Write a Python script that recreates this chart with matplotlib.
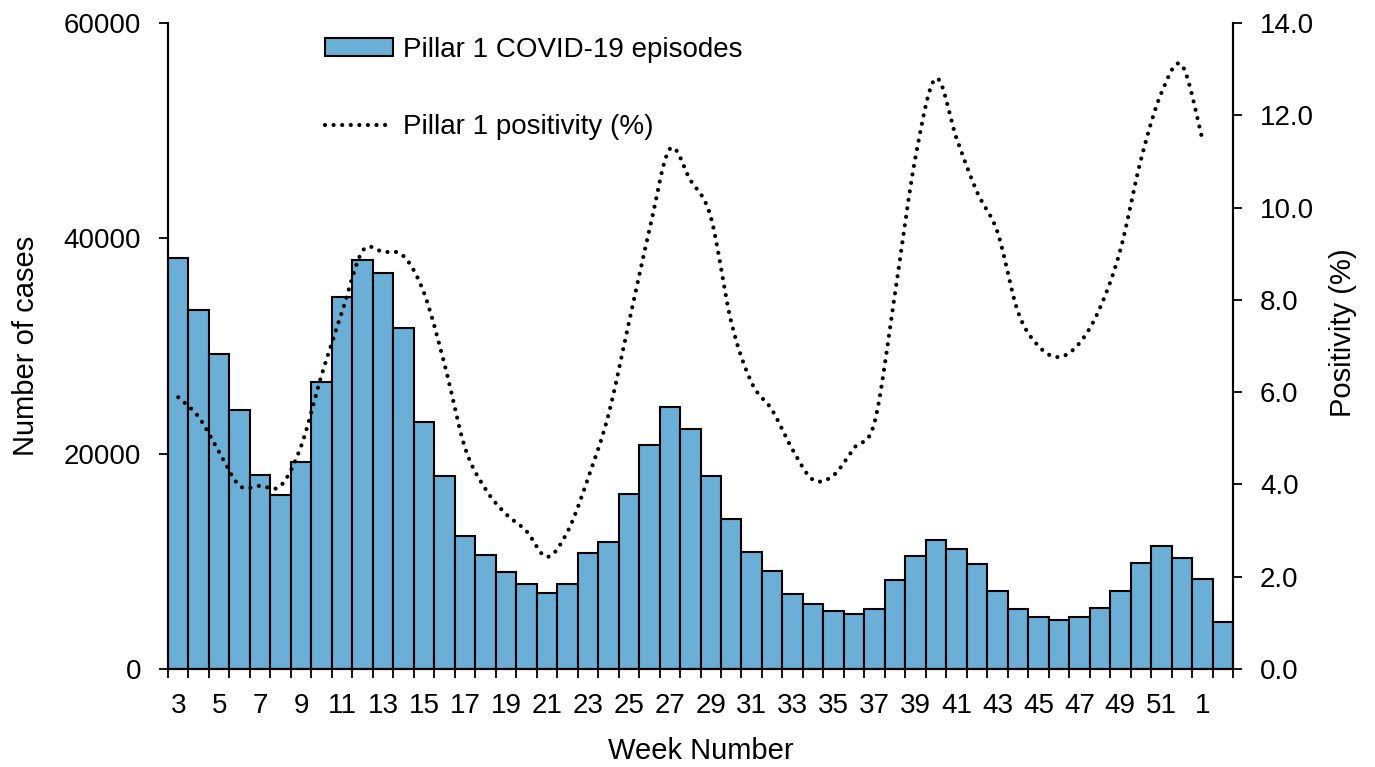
import numpy as np
import matplotlib
matplotlib.use("Agg")
import matplotlib.pyplot as plt
from matplotlib.lines import Line2D
from matplotlib.patches import Patch

plt.rcParams['font.family'] = ['Liberation Sans', 'DejaVu Sans']

weeks = [str(w) for w in range(3, 53)] + ["1", "2"]
cases = [38200, 33350, 29260, 24060, 18020, 16160, 19230, 26660, 34560, 38000,
         36790, 31680, 22950, 17930, 12360, 10590, 9010, 7900, 7060, 7900,
         10780, 11800, 16260, 20810, 24340, 22300, 17930, 13940, 10870, 9100,
         6970, 6040, 5390, 5110, 5570, 8270, 10500, 11980, 11150, 9750,
         7250, 5570, 4830, 4550, 4830, 5670, 7250, 9850, 11430, 10310,
         8360, 4370]
positivity = [5.89, 5.46, 4.70, 3.97, 3.97, 3.97, 4.83, 6.37, 7.74, 9.06,
              9.04, 8.95, 8.15, 6.61, 4.80, 3.90, 3.36, 2.99, 2.43, 2.97,
              4.12, 5.50, 7.50, 9.50, 11.27, 10.60, 9.80, 7.52, 6.20, 5.61,
              4.75, 4.10, 4.20, 4.79, 5.35, 8.15, 11.10, 12.80, 11.50, 10.34,
              9.47, 7.74, 7.00, 6.76, 7.06, 7.82, 9.08, 11.03, 12.48, 13.09,
              11.49]
left_ticks = [0, 20000, 40000, 60000]
right_ticks = [0, 2, 4, 6, 8, 10, 12, 14]

BAR_COLOR = '#6baed6'
FS = 20
LFS = 21

fig = plt.figure(figsize=(13.75, 7.67), dpi=100)
ax = fig.add_axes([168/1375, 1-669/767, (1233-168)/1375, (669-23)/767])
ax2 = ax.twinx()

x = np.arange(len(cases))
ax.bar(x, cases, width=1.0, color=BAR_COLOR, edgecolor='black', linewidth=1.5, zorder=2)
ax.set_xlim(-0.5, len(cases) - 0.5)
ax.set_ylim(0, 60000)
ax.set_yticks(left_ticks)
ax.set_yticklabels([str(t) for t in left_ticks], fontsize=FS)

# x ticks: labels every other week, tick marks at bar boundaries
lab_pos = list(range(0, len(weeks), 2))[:26]
ax.set_xticks(lab_pos)
ax.set_xticklabels([weeks[i] for i in lab_pos], fontsize=FS)
ax.tick_params(axis='x', which='major', length=0, pad=17)
ax.set_xticks(np.arange(-0.5, len(cases) + 0.5, 1.0), minor=True)
ax.tick_params(axis='x', which='minor', length=6.5, width=1.3, direction='out')
ax.tick_params(axis='y', length=6.5, width=1.3, direction='out', pad=13)

# Smoothed positivity line (Excel-like bezier through the data points)
px = np.arange(len(positivity), dtype=float)
py = np.array(positivity, dtype=float)
P = np.column_stack([px, py])
n = len(P)
sx, sy = [], []
t = np.linspace(0, 1, 20)[:, None]
for i in range(n - 1):
    p0 = P[i - 1] if i > 0 else P[i]
    p1 = P[i]
    p2 = P[i + 1]
    p3 = P[i + 2] if i + 2 < n else P[i + 1]
    c1 = p1 + (p2 - p0) / 6.0
    c2 = p2 - (p3 - p1) / 6.0
    seg = (1 - t) ** 3 * p1 + 3 * (1 - t) ** 2 * t * c1 + 3 * (1 - t) * t ** 2 * c2 + t ** 3 * p2
    if i > 0:
        seg = seg[1:]
    sx.extend(seg[:, 0]); sy.extend(seg[:, 1])

dot_style = dict(color='black', linewidth=3.0, linestyle=(0, (0.01, 2.05)),
                 dash_capstyle='round')
ax2.plot(sx, sy, zorder=3, **dot_style)
ax2.set_ylim(0, 14)
ax2.set_yticks(right_ticks)
ax2.set_yticklabels([f"{t:.1f}" for t in right_ticks], fontsize=FS)
ax2.tick_params(axis='y', length=6.5, width=1.3, direction='out', pad=13)

for a in (ax, ax2):
    a.spines['top'].set_visible(False)
    for s in ('left', 'right', 'bottom'):
        a.spines[s].set_linewidth(1.5)

ax.set_ylabel('Number of cases', fontsize=LFS)
ax.yaxis.set_label_coords(-0.12, 0.5)
ax2.set_ylabel('Positivity (%)', fontsize=LFS)
ax2.yaxis.set_label_coords(1.09, 0.52)
ax.set_xlabel('Week Number', fontsize=LFS, labelpad=13)

handles = [Patch(facecolor=BAR_COLOR, edgecolor='black', linewidth=1.5),
           Line2D([0], [0], **dot_style)]
leg = fig.legend(handles, ['Pillar 1 COVID-19 episodes', 'Pillar 1 positivity (%)'],
                 loc='upper left', bbox_to_anchor=(325/1375, 1-37/767),
                 frameon=False, fontsize=FS, borderpad=0, borderaxespad=0,
                 handlelength=2.45, handleheight=0.62, handletextpad=0.36,
                 labelspacing=1.85)

fig.savefig('out.png', dpi=100)
